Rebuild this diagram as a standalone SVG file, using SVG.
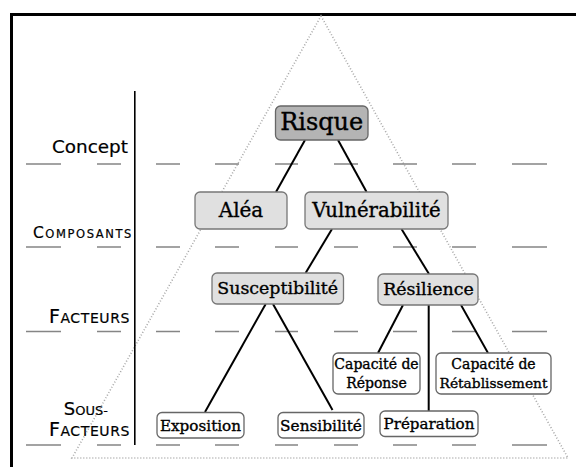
<svg xmlns="http://www.w3.org/2000/svg" xmlns:xlink="http://www.w3.org/1999/xlink" width="576" height="467" viewBox="0 0 576 467">
<style>
.frame{fill:none;stroke:#000;stroke-width:3}
.tri{fill:none;stroke:#a8a8a8;stroke-width:1.6;stroke-dasharray:1 2}
.dash{fill:none;stroke:#858585;stroke-width:1.6}
.axis{fill:none;stroke:#000;stroke-width:1.6}
.conn{fill:none;stroke:#000;stroke-width:2}
.lbl{font-family:"DejaVu Sans",sans-serif;fill:#000;text-anchor:end;stroke:#000;stroke-width:0.2}
.n0{fill:#b4b4b4;stroke:#666;stroke-width:1.3}
.n1{fill:#e0e0e0;stroke:#777;stroke-width:1.3}
.n2{fill:#fff;stroke:#666;stroke-width:1.3}
.t{font-family:"DejaVu Serif",serif;fill:#000;text-anchor:middle;stroke:#000;stroke-width:0.35}
</style>
<defs>
<path id="dashrow" class="dash" d="M26 0h35M97 0h24M156 0h24M215 0h24M275 0h23M334 0h24M393 0h24M452 0h24M512 0h35"/>
</defs>
<path class="frame" d="M11.5 467V14.5H576"/>
<path class="tri" d="M321 16L568 458H72Z"/>
<g id="dashes">
<use xlink:href="#dashrow" y="164"/>
<use xlink:href="#dashrow" y="247"/>
<use xlink:href="#dashrow" y="331.5"/>
<use xlink:href="#dashrow" y="445"/>
</g>
<path class="axis" d="M134.8 91V445"/>
<g id="labels">
<text class="lbl" x="128" y="153" font-size="18.4">Concept</text>
<text class="lbl" x="133" y="238" font-size="15.5" letter-spacing="1.6">C<tspan font-size="11.5">OMPOSANTS</tspan></text>
<text class="lbl" x="130" y="323" font-size="19" letter-spacing="0.6">F<tspan font-size="14">ACTEURS</tspan></text>
<text class="lbl" x="108" y="415" font-size="18">S<tspan font-size="13">OUS-</tspan></text>
<text class="lbl" x="130" y="436" font-size="19" letter-spacing="0.6">F<tspan font-size="14">ACTEURS</tspan></text>
</g>
<g id="connectors">
<path class="conn" d="M305 140L276 192"/>
<path class="conn" d="M338 140L366.6 192"/>
<path class="conn" d="M332 229L305.6 273"/>
<path class="conn" d="M401.5 229L429 274"/>
<path class="conn" d="M265.7 304L205 412"/>
<path class="conn" d="M273 304L332.5 410"/>
<path class="conn" d="M403 305L378 353"/>
<path class="conn" d="M428.7 305V411"/>
<path class="conn" d="M461 305L488 353"/>
</g>
<g id="risque"><rect class="n0" x="275.5" y="106" width="92.5" height="34" rx="5"/><text class="t" x="321.7" y="129.5" font-size="24">Risque</text></g>
<g id="alea"><rect class="n1" x="195" y="192" width="92" height="37" rx="5"/><text class="t" x="241" y="216.5" font-size="20">Aléa</text></g>
<g id="vulnerabilite"><rect class="n1" x="305" y="192" width="143" height="37" rx="5"/><text class="t" x="376.5" y="216.5" font-size="19.7">Vulnérabilité</text></g>
<g id="susceptibilite"><rect class="n1" x="212" y="273" width="131.5" height="31" rx="5"/><text class="t" x="277.7" y="293.5" font-size="17.4">Susceptibilité</text></g>
<g id="resilience"><rect class="n1" x="378" y="274" width="100" height="31" rx="5"/><text class="t" x="428.5" y="295" font-size="17.4">Résilience</text></g>
<g id="capacite-reponse"><rect class="n2" x="333" y="353" width="87" height="41" rx="5"/><text class="t" x="376.5" y="368.5" font-size="14">Capacité de</text><text class="t" x="376.5" y="387.5" font-size="14">Réponse</text></g>
<g id="capacite-retablissement"><rect class="n2" x="436" y="353" width="115" height="41" rx="5"/><text class="t" x="493.5" y="368.5" font-size="14">Capacité de</text><text class="t" x="493.5" y="388" font-size="13.8">Rétablissement</text></g>
<g id="exposition"><rect class="n2" x="157" y="412.5" width="87" height="25.5" rx="5"/><text class="t" x="200.5" y="431" font-size="15.2">Exposition</text></g>
<g id="sensibilite"><rect class="n2" x="278" y="412.5" width="86" height="25.5" rx="5"/><text class="t" x="321" y="431" font-size="15.3">Sensibilité</text></g>
<g id="preparation"><rect class="n2" x="380" y="411" width="98" height="25.5" rx="5"/><text class="t" x="429" y="428.5" font-size="15.1">Préparation</text></g>
</svg>
